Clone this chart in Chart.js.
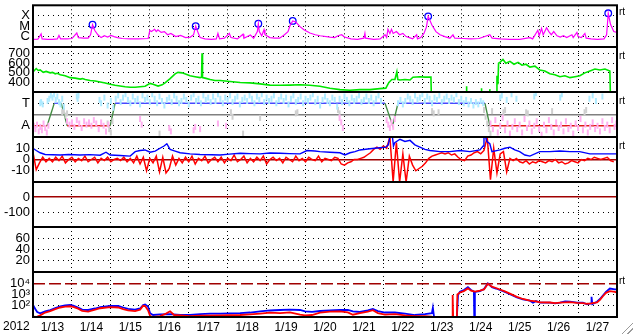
<!DOCTYPE html>
<html>
<head>
<meta charset="utf-8">
<script src="https://cdn.jsdelivr.net/npm/chart.js@4.4.0/dist/chart.umd.min.js"></script>
<style>
  html, body { margin: 0; padding: 0; background: #fff; }
  #wrap { position: relative; width: 633px; height: 334px; overflow: hidden; background: #fff; }
  #wrap canvas { position: absolute; left: 0; top: 0; }
  .rt { position: absolute; left: 619px; font: 10px "Liberation Sans", Arial, sans-serif; line-height: 10px; color: #000; }
  #year { position: absolute; left: 3px; top: 319px; font: 12px "Liberation Sans", Arial, sans-serif; line-height: 14px; color: #000; }
  #grip { position: absolute; left: 620px; top: 321px; width: 13px; height: 13px;
    background: repeating-linear-gradient(135deg, #fff 0 2px, #9a9a9a 2px 3px, #fff 3px 4px);
    clip-path: polygon(100% 0, 100% 100%, 0 100%); }
</style>
</head>
<body>
<div id="wrap">
  <canvas id="c0" width="633" height="334"></canvas>
  <canvas id="c1" width="633" height="334"></canvas>
  <canvas id="c2" width="633" height="334"></canvas>
  <canvas id="c3" width="633" height="334"></canvas>
  <canvas id="c4" width="633" height="334"></canvas>
  <canvas id="c5" width="633" height="334"></canvas>
  <canvas id="c6" width="633" height="334"></canvas>
  <span class="rt" style="top:7px">rt</span>
  <span class="rt" style="top:51px">rt</span>
  <span class="rt" style="top:96px">rt</span>
  <span class="rt" style="top:141px">rt</span>
  <span class="rt" style="top:276px">rt</span>
  <div id="year"></div>
  <div id="grip"></div>
</div>
<script>
// time axis: hours since 2012-01-13 00:00 UT
const yearLabel = "2012";
const dayLabels = ["1/13", "1/14", "1/15", "1/16", "1/17", "1/18", "1/19", "1/20",
  "1/21", "1/22", "1/23", "1/24", "1/25", "1/26", "1/27"];

// GOES x-ray flux (W/m2)
const xrayClassVals = [1e-6, 1e-5, 1e-4];
const xrayClassLabels = ["C", "M", "X"];
const xray = [[0,5.3e-7],[3,5.5e-7],[5,1.8e-6],[5.6,6e-7],[9,5.5e-7],[12,5.5e-7],[15,6e-7],[16,1.3e-6],[17,6e-7],[21,6e-7],[24,6.5e-7],[27,2.2e-6],[28,8e-7],[31,7e-7],[34,7e-7],[35.5,1.5e-6],[36.7,1.4e-5],[38,4e-6],[40,1.5e-6],[42,8e-7],[44,1.2e-6],[46,9e-7],[48,1.3e-6],[50,1e-6],[52,8e-7],[55,6.5e-7],[60,6e-7],[65,6e-7],[71,6.5e-7],[72,4e-6],[73,3e-6],[75,5e-6],[76,3e-6],[77,4.5e-6],[79,2.5e-6],[81,3e-6],[83,1.5e-6],[85,2e-6],[88,1e-6],[91,1.3e-6],[94,8e-7],[97,9e-7],[99,1.5e-6],[100.3,1e-5],[101.5,3e-6],[103,8e-7],[106,6e-7],[110,5.5e-7],[113,6e-7],[114,2e-6],[115,6e-7],[118,7e-7],[121,2e-6],[122,8e-7],[126,6e-7],[129.5,1.7e-6],[130,7e-7],[134,1.4e-6],[136,7e-7],[138.3,3e-6],[138.9,1.7e-5],[139.5,3e-6],[141,1.2e-6],[142.4,4.5e-6],[143,1.5e-6],[146,8e-7],[149,7e-7],[152,7e-7],[155,1.5e-6],[157.2,3e-6],[158.5,1.2e-5],[160.1,3.2e-5],[162,2.5e-5],[164.6,9e-6],[167,4.5e-6],[170.7,2.2e-6],[174,1.5e-6],[177,1.2e-6],[183,9e-7],[186,8e-7],[188,1.2e-6],[190.3,1.5e-6],[192,9e-7],[196,6e-7],[200,5.5e-7],[204,7e-7],[204.6,2e-6],[205,7e-7],[210,5.5e-7],[214,6e-7],[217,1.5e-6],[218,8e-7],[218.8,5e-6],[220,2e-6],[221,5e-6],[222,2e-6],[224,3e-6],[226,1.5e-6],[228,2e-6],[230,1e-6],[232,8e-7],[234,6e-7],[236.5,1.5e-6],[237,6e-7],[239,8e-7],[241,2e-6],[242.5,8e-6],[243.6,8.7e-5],[245.9,1.3e-5],[248.4,3e-6],[250.9,1.5e-6],[253.9,1e-6],[257,7e-7],[258.9,1.5e-6],[260,7e-7],[265,6.5e-7],[270,6e-7],[275,6.5e-7],[281.6,1.5e-6],[283,7e-7],[288,6e-7],[294,5.5e-7],[300,5.5e-7],[306.3,8e-7],[308,6e-7],[311.2,4e-6],[312,1.2e-6],[313.5,6e-6],[314.5,1.5e-6],[316.6,7e-6],[318,3e-6],[319.5,1.5e-6],[321,3e-6],[323,1.2e-6],[325,9e-7],[327,1.2e-6],[329,8e-7],[332.2,1.5e-6],[333,8e-7],[335.3,2.5e-6],[336,1e-6],[338,8e-7],[340.2,2e-6],[341,7e-7],[344,6e-7],[348,5.5e-7],[352,6e-7],[353.6,1.5e-6],[354.6,1.7e-4],[356,1.5e-5],[358,3e-6],[360,2.5e-6]];
const flares = [[36.7,1.4e-5],[100.3,1e-5],[138.9,1.7e-5],[160.1,3.2e-5],[243.6,8.7e-5],[354.6,1.7e-4]];

// solar wind speed (km/s)
const windTicks = [400, 500, 600, 700];
const wind = [[0,510],[2,545],[3.2,525],[4.4,530],[6.3,505],[8.1,515],[10.6,500],[12,505],[13.7,490],[15,495],[16.8,480],[19.8,470],[21,462],[22.9,450],[26,445],[29.1,435],[30.5,440],[32.2,430],[35.2,420],[38.3,415],[41.4,405],[44.5,395],[47.6,380],[50.6,370],[53.7,362],[56.8,355],[59.9,350],[62.9,350],[66,355],[69.1,360],[72.2,390],[74,380],[77.1,362],[79.6,375],[81.4,395],[84.5,440],[87.6,490],[89.4,505],[91.9,500],[94.4,485],[96.8,470],[99.9,460],[103,450],[103.9,455],[104.2,705],[104.5,450],[106.1,445],[109.2,430],[112.2,420],[115.3,420],[121.5,410],[127.7,400],[133.8,395],[140,385],[146.1,372],[152.3,370],[158.4,372],[164.6,375],[170.7,370],[176.9,360],[183,340],[189.2,325],[195.4,318],[201.5,325],[207.7,325],[213.8,335],[217.5,340],[219.4,400],[221.2,430],[223.1,430],[224.3,510],[224.9,430],[226.2,425],[229.3,430],[232.4,425],[234.2,455],[238.5,460],[241.6,455],[245.3,455],[245.9,0],[267,0],[267.3,360],[267.6,0],[276.2,0],[276.5,340],[276.8,0],[281.3,0],[281.6,330],[281.9,0],[285.6,0],[286,470],[286.6,380],[287,600],[287.8,610],[289.7,640],[291.5,600],[294,620],[296.5,590],[299,610],[301.4,580],[303.9,590],[306.3,560],[309.4,570],[312.4,530],[315.5,520],[318.6,490],[321.7,480],[324.8,460],[327.9,470],[331,450],[334.1,460],[337.1,470],[340.2,500],[343.3,520],[346.4,540],[349.5,530],[352.6,540],[355.6,520],[356.3,0],[360,0]];

// IMF sector: T = toward (+1), A = away (-1)
const sectorTicks = [-1, 0, 1];
const sectorLabels = { "1": "T", "-1": "A" };
const polarity = [[0,-1],[8.7,-1],[13.1,1],[17.4,1],[21.1,-1],[47.6,-1],[50.6,1],[217,1],[221.7,-1],[225,1],[278.6,1],[281.6,-1],[360,-1]];
const phiToward = [[4.5,1.0],[5,1.1],[6,0.9],[9,1.2],[10,1.4],[11,1.7],[12,1.5],[13,1.8],[14,1.3],[15,1.6],[16,1.1],[17,0.9],[18,1.4],[19,0.7],[27,1.6],[27.5,1.4],[28,1.7],[41,1.3],[42,1.0],[44,1.5],[46,0.8],
  [48,1.2],[49.5,0.6],[51,1.4],[52.5,1.7],[54,1.1],[55.5,1.5],[57,1.8],[58.5,1.3],[60,1.0],[61.5,1.6],[63,1.2],[64.5,1.4],[66,0.9],[67.5,1.7],[69,1.3],[70.5,1.5],[72,1.1],[73.5,1.8],[75,1.4],[76.5,1.0],[78,1.6],[79.5,1.2],[81,0.8],[82.5,1.3],[84,1.5],[85.5,1.1],[87,1.7],[88.5,1.4],[90,1.0],[91.5,1.2],[93,1.6],[94.5,1.3],[96,0.9],[97.5,1.5],[99,1.8],[100.5,1.2],[102,1.4],[103.5,1.0],[105,1.7],[106.5,1.3],[108,1.5],[109.5,1.1],[111,1.6],[112.5,1.2],[114,1.8],[115.5,1.4],[117,1.0],[118.5,1.5],[120,1.3],[121.5,1.7],[123,1.1],[124.5,1.4],[126,1.6],[127.5,0.9],[129,1.3],[130.5,1.5],[132,1.2],[133.5,1.7],[135,1.4],[136.5,1.0],[138,1.6],[139.5,1.3],[141,1.8],[142.5,1.1],[144,1.5],[145.5,1.2],[147,1.4],[148.5,1.7],[150,1.0],[151.5,1.3],[153,1.6],[154.5,1.2],[156,1.5],[157.5,0.9],[159,1.4],[160.5,1.7],[162,1.1],[163.5,1.3],[165,1.6],[166.5,1.0],[168,1.4],[169.5,1.2],[171,1.5],[172.5,1.8],[174,1.1],[175.5,1.4],[177,0.8],[178.5,1.3],[180,1.6],[181.5,1.2],[183,1.0],[184.5,1.5],[186,1.3],[187.5,0.7],[189,1.4],[190.5,1.1],[192,1.6],[193.5,1.3],[195,1.0],[196.5,1.5],[198,1.2],[199.5,1.4],[201,1.7],[202.5,1.1],[204,1.3],[205.5,1.6],[207,1.2],[208.5,1.5],[210,1.0],[211.5,1.4],[213,1.7],[214.5,1.2],
  [225,1.0],[226.5,1.3],[228,0.9],[229.5,1.2],[231,1.6],[232.5,1.4],[234,1.1],[235.5,1.7],[237,1.3],[238.5,1.5],[240,1.8],[241.5,1.2],[243,1.6],[244.5,1.4],[246,1.0],[247.5,1.5],[249,1.3],[250.5,1.7],[252,1.1],[253.5,1.4],[255,1.6],[256.5,1.2],[258,1.5],[259.5,1.3],[261,1.8],[262.5,1.1],[264,1.4],[265.5,1.0],[267,1.3],[268.5,0.9],[270,1.2],[271.5,0.8],[273,1.1],[274.5,0.9],[276,1.2],[277.5,1.0],
  [288,1.5],[289,1.7],[292,1.3],[295,1.8],[298,1.4],[309,1.6],[310,1.9],[325,1.5],[326,1.8],[343,1.4],[345,1.7],[347,1.2],[351,1.6]];
const phiAway = [[0.5,-1.0],[1.5,-1.3],[2.5,-0.9],[3.5,-1.5],[4.5,-1.1],[5.5,-1.4],[6.5,-0.8],[7.5,-1.2],[8.5,-1.6],[9.5,-1.0],
  [21,-0.6],[22.5,-0.9],[24,-0.7],[25.5,-1.1],[27,-0.5],[28.5,-0.8],[30,-1.2],[31.5,-0.6],[33,-0.9],[34.5,-0.7],[36,-1.0],[37.5,-0.5],[39,-0.8],[40.5,-1.3],[42,-0.7],[43.5,-1.0],[45,-1.5],[46.5,-0.9],
  [66,-0.4],[67,-0.9],[84,-1.2],[85,-1.5],[99,-1.4],[100,-1.1],[103,-1.3],[114,-0.8],[119,-1.0],[189,-0.3],[190,-0.7],[191,-1.2],[218,-0.5],[219,-0.9],[220,-1.2],[221,-0.7],[222,-1.1],[223,-0.4],
  [282,-0.8],[283.5,-1.3],[285,-0.5],[286.5,-1.6],[288,-1.0],[289.5,-0.3],[291,-1.4],[292.5,-0.8],[294,-1.7],[295.5,-1.1],[297,-0.6],[298.5,-1.3],[300,-0.9],[301.5,-1.6],[303,-0.4],[304.5,-1.2],[306,-0.8],[307.5,-1.5],[309,-1.0],[310.5,-0.6],[312,-1.3],[313.5,-1.8],[315,-0.9],[316.5,-1.4],[318,-0.5],[319.5,-1.1],[321,-1.6],[322.5,-0.7],[324,-1.2],[325.5,-0.9],[327,-1.5],[328.5,-0.6],[330,-1.3],[331.5,-1.0],[333,-1.7],[334.5,-0.8],[336,-1.2],[337.5,-0.4],[339,-1.4],[340.5,-0.9],[342,-1.6],[343.5,-1.1],[345,-0.7],[346.5,-1.3],[348,-1.0],[349.5,-1.5],[351,-0.6],[352.5,-1.2],[354,-0.9],[355.5,-1.4],[357,-0.5],[358.5,-1.1],[359.5,-0.8]];
const phiMixed = [[18,0.2],[19,0.3],[20,-0.1],[21,0.1],[46,-0.8],[47,-1.3],[48,-1.6],[49,-0.6],[78,-1.7],[122,0.2],[123,-0.2],[129.5,-1.7],[140,-0.3],[162,0.1],[163,0.2],[188,0.4],[189,0.1],[246,0.3],[247,0.1],[250,0.2],[278,0.4],[279,-0.2],[280,-0.8],[281,-1.3],[282,-1.7],[283,0.3],[290,0.2],[291,0.4],[304,0.2],[305,0.1],[320,0.3],[340,0.2],[341,0.4]];

// IMF Bt and Bz (nT)
const bTicks = [-10, 0, 10];
const bt = [[0,10],[2,8],[4.4,6],[7.5,4.5],[12,4.2],[16.8,4],[22,4.5],[29,4],[35,4.3],[41.4,3.8],[45,6.5],[47.6,4],[53.7,3.5],[59.9,3],[63,7],[66,8],[69,8.5],[72.2,6.5],[75.3,7.5],[78.3,10],[80.8,12],[82.5,14],[84.5,9],[87.6,7.5],[90.7,6],[96.8,5],[103,4.5],[110,4.2],[115.3,4],[121,4.8],[127.7,5.5],[134,5.2],[140,5],[146,5.8],[152.3,5.5],[158,5.2],[164.6,5],[168.9,8],[173.8,7.5],[176.9,7],[183,6.5],[189.2,6],[192.3,4],[195.4,6],[198.5,7],[201.5,8.5],[207.7,9.5],[213.8,10.5],[217.5,11],[219,13],[220,20],[221.2,25],[222.2,12],[223,15],[226.2,18],[229.3,16],[232.4,17],[235.4,13],[238.5,11],[241.6,9],[244.7,8],[250.9,7],[257,7],[263.2,8],[269.3,7],[275.5,8.5],[277.5,12],[278,25],[279.8,16],[281.6,14],[282.9,7],[287.8,8.5],[290.9,10],[294,11],[297,8.5],[300,7],[303.2,4],[306.3,3],[312.4,7],[318.6,7],[324.8,7.5],[331,7],[337,7],[343.3,5],[349.5,5],[355.6,5],[360,5]];
const bzStep = 2; // hours between Bz samples
const bz = [6,-9,-3,2,-2,
  1,-2,2,-1,3,-3,0,2,-2,1,-1,3,-2,0,2,-3,1,-1,2,-2,0,1,-1,2,-2,
  1,-3,3,-4,2,-10,1,-3,3,-11,2,-12,-8,3,-5,1,-3,2,
  -2,3,-4,1,-1,3,-3,0,2,-2,
  2,-3,1,-1,4,-2,0,3,-3,1,-2,2,-1,3,-4,0,2,-1,1,-3,2,0,-2,3,-1,1,-2,2,0,-1,3,-2,1,0,-1,2,1,
  -4,-5,-3,-2,0,
  0,1,2,4,6,9,11,9,12,10,
  20,-20,15,-20,5,-20,3,-5,
  -10,-8,-6,-3,1,3,4,5,6,5,6,4,5,
  2,0,-1,3,4,6,7,5,8,20,-18,10,-12,5,7,-11,1,-1,1,
  -2,-3,-1,-4,-2,-3,-1,-2,-3,-1,-2,0,-3,-2,-4,-3,-1,-2,-3,0,-1,1,0,2,1,0,1,2,-1,-2];

// Dst and Kp panels (no data in this period)
const dstTicks = [-100, 0];
const kpTicks = [20, 40, 60];

// proton flux (pfu)
const protonTicks = [1e2, 1e3, 1e4];
const protonLabels = ["10\u00b2", "10\u00b3", "10\u2074"];
const protonHi = [[0,117],[1.4,52],[2.6,28],[4.4,21],[7.5,31],[10.6,42],[13.7,63],[16.8,86],[19.8,110],[22.9,117],[24.8,105],[27.8,70],[30.3,46],[34,42],[38.3,57],[41.4,77],[47.6,95],[52.5,95],[55.6,70],[58.6,52],[62.9,46],[66,57],[67.9,117],[69.1,130],[70.9,86],[72.2,22],[74,15],[78.3,17],[84.5,18],[90.7,15],[96.8,15],[103,18],[109.2,20],[115.3,20],[121.5,21],[127.7,22],[133.8,25],[140,31],[146.1,38],[152.3,42],[158.4,46],[164.6,42],[167.7,31],[172,28],[176.9,34],[183,38],[189.2,42],[194.1,42],[197.2,31],[201.5,28],[206.4,38],[209.5,52],[212.6,34],[217,25],[223.1,25],[229.3,20],[235.4,15],[241.6,18],[245.9,22],[246.5,67],[247.2,11],[247.5,null],[261,null],[261.3,10],[262,900],[263.2,1800],[265.6,2500],[268.1,4400],[270,2500],[271.8,1800],[272,10],[272.4,1700],[275.5,2000],[278,3000],[280.4,9600],[282.9,4400],[285.4,3400],[287.8,2500],[290.9,1700],[294,1050],[298.3,560],[302,370],[306.3,280],[308.2,190],[310,260],[312.6,187],[318.7,187],[321.8,160],[324.9,187],[328,240],[331,230],[335.3,190],[339,190],[341.5,135],[344,160],[344.3,630],[344.8,140],[347.7,230],[349.5,400],[351.3,820],[353.2,1700],[355.6,3400],[358.7,2900],[360,2800]];
const protonLo = [[0,11],[2,10],[4.4,14],[7.5,25],[10.6,33],[13.7,50],[16.8,70],[19.8,85],[22.9,90],[24.8,80],[27.8,55],[30.3,35],[34,30],[38.3,45],[41.4,60],[47.6,75],[52.5,70],[55.6,50],[58.6,38],[62.9,33],[66,45],[67.9,100],[69.1,95],[70.9,40],[72.2,12],[74,10],[78.3,12],[82,20],[84.5,32],[87,15],[96.8,12],[103,13],[115,14],[127.7,15],[133.8,17],[140,20],[146.1,24],[152.3,22],[158.4,26],[164.6,16],[167.7,14],[172,15],[176.9,24],[183,30],[189.2,32],[194.1,26],[197.2,16],[201.5,22],[206.4,30],[209.5,40],[212.6,22],[217,16],[223.1,18],[229.3,14],[235.4,12],[241.6,12],[245.9,11],[246.5,null],[258.4,null],[258.5,10],[258.7,900],[259,10],[259.2,null],[261,null],[261.3,10],[261.6,1000],[263.2,1500],[265.6,2000],[268.1,3500],[270,2200],[272.4,1800],[275.5,2200],[278,2800],[280.4,9000],[282.9,5000],[285.4,3800],[287.8,2800],[290.9,1900],[294,1200],[298.3,620],[302,400],[306.3,290],[310,250],[312.6,200],[318.7,195],[321.8,170],[324.9,190],[328,200],[331,210],[335.3,180],[339,170],[341.5,150],[344,160],[347.7,200],[349.5,330],[351.3,700],[353.2,1400],[355.6,2000],[358.7,1700],[360,1500]];

const FONT = '"Liberation Sans", Arial, Helvetica, sans-serif';
const panelEdges = [2, 47, 92, 137, 182, 227, 272, 317];
const HOURS = dayLabels.length * 24;

document.getElementById("year").textContent = yearLabel;

const xTicks = [];
for (let i = 0; i <= dayLabels.length; i++) {
  xTicks.push(i * 24);
  if (i < dayLabels.length) xTicks.push(i * 24 + 12);
}

// frame around each panel
const frame = {
  id: "frame",
  afterDraw(chart) {
    const { ctx, chartArea: a } = chart;
    ctx.save();
    ctx.strokeStyle = "#000";
    ctx.lineWidth = 2;
    ctx.strokeRect(a.left, a.top, a.right - a.left, a.bottom - a.top);
    ctx.restore();
  }
};

function xAxis(showLabels) {
  return {
    type: "linear",
    min: 0,
    max: HOURS,
    afterBuildTicks: (s) => { s.ticks = xTicks.map((v) => ({ value: v })); },
    afterFit: (s) => {
      s.height = showLabels ? 17 : 0;
      s.paddingLeft = 0;
      s.paddingRight = 0;
    },
    grid: {
      drawTicks: false,
      lineWidth: 1,
      color: (c) => (c.tick && c.tick.value % 24 === 0 ? "#000" : "rgba(0,0,0,0)")
    },
    border: { display: false, dash: [1, 3] },
    ticks: {
      display: showLabels,
      autoSkip: false,
      maxRotation: 0,
      padding: 3,
      color: "#000",
      font: { family: FONT, size: 12 },
      callback: (v) => (v % 24 === 12 ? dayLabels[(v - 12) / 24] : "")
    }
  };
}

// special: one tick drawn as a solid / dashed coloured line instead of dots
function yAxis(type, min, max, ticks, label, special) {
  const isSpecial = (c) => special && c.tick && c.tick.value === special.value;
  return {
    type, min, max,
    afterBuildTicks: (s) => { s.ticks = ticks.map((v) => ({ value: v })); },
    afterFit: (s) => { s.width = 33; s.paddingTop = 0; s.paddingBottom = 0; },
    grid: {
      drawTicks: false,
      color: (c) => (isSpecial(c) ? special.color : "#000"),
      lineWidth: (c) => (isSpecial(c) ? special.width : 1)
    },
    border: { display: false, dash: (c) => (isSpecial(c) ? special.dash : [1, 4]) },
    ticks: {
      autoSkip: false,
      padding: 3,
      color: "#000",
      font: { family: FONT, size: 13 },
      callback: label
    }
  };
}

function line(data, color, width, extra) {
  return Object.assign({
    data, borderColor: color, borderWidth: width,
    pointRadius: 0, tension: 0, fill: false
  }, extra || {});
}

// short vertical streaks, like the scattered field-angle samples
function dots(data, color) {
  return {
    data, showLine: false, pointStyle: "line", pointRotation: 90, pointRadius: 3,
    pointBorderWidth: 2, pointBorderColor: color, pointBackgroundColor: color, borderColor: color
  };
}

function panel(idx, yScale, datasets) {
  const last = idx === 6;
  return new Chart(document.getElementById("c" + idx), {
    type: "line",
    data: { datasets },
    options: {
      responsive: false,
      animation: false,
      devicePixelRatio: 1,
      events: [],
      layout: {
        padding: { left: 0, right: 16, top: panelEdges[idx], bottom: last ? 0 : 334 - panelEdges[idx + 1] }
      },
      plugins: { legend: { display: false }, tooltip: { enabled: false } },
      scales: { x: xAxis(last), y: yScale }
    },
    plugins: [frame]
  });
}

// 1. x-ray
panel(0,
  yAxis("logarithmic", 1e-7, 1e-3, xrayClassVals, (v) => xrayClassLabels[xrayClassVals.indexOf(v)]),
  [
    line(xray, "#ff00ff", 1.2),
    { data: flares, showLine: false, pointStyle: "circle", pointRadius: 3.3,
      pointBorderColor: "#0000ff", pointBackgroundColor: "rgba(0,0,0,0)", pointBorderWidth: 1.3 }
  ]);

// 2. solar wind
panel(1,
  yAxis("linear", 300, 770, windTicks, (v) => String(v)),
  [line(wind, "#00e600", 1.6)]);

// 3. sector
panel(2,
  yAxis("linear", -2, 2, sectorTicks, (v) => sectorLabels[String(v)] || "",
    { value: 0, color: "#808080", dash: [], width: 1.5 }),
  [
    dots(phiToward, "#aeeaff"),
    dots(phiAway, "#ffb0f0"),
    dots(phiMixed, "#cfcfcf"),
    line(polarity, "#4848ff", 1.3, {
      segment: {
        borderColor: (c) => (c.p0.parsed.y !== c.p1.parsed.y ? "#3f8a3f"
          : (c.p0.parsed.y > 0 ? "#4848ff" : "#e01818"))
      }
    })
  ]);

// 4. Bt / Bz
panel(3,
  yAxis("linear", -20, 20, bTicks, (v) => String(v),
    { value: 0, color: "#a00000", dash: [], width: 1.5 }),
  [
    line(bt, "#0000ff", 1.4),
    line(bz.map((v, i) => [i * bzStep, v]), "#ff0000", 1.5)
  ]);

// 5. Dst
panel(4,
  yAxis("linear", -200, 100, dstTicks, (v) => String(v),
    { value: 0, color: "#a00000", dash: [], width: 1.5 }),
  []);

// 6. Kp
panel(5,
  yAxis("linear", 0, 80, kpTicks, (v) => String(v)),
  []);

// 7. protons
panel(6,
  yAxis("logarithmic", 10, 1e5, protonTicks, (v) => protonLabels[protonTicks.indexOf(v)],
    { value: 1e4, color: "#a00000", dash: [12, 4], width: 1.5 }),
  [
    line(protonLo, "#ff0000", 1.8),
    line(protonHi, "#0000ff", 1.8)
  ]);
</script>
</body>
</html>
